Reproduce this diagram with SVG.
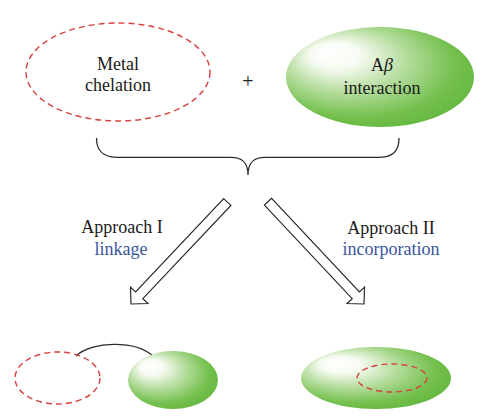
<svg xmlns="http://www.w3.org/2000/svg" width="496" height="416" viewBox="0 0 496 416">
  <defs>
    <radialGradient id="greenGrad" cx="0.42" cy="0.42" r="0.65" fx="0.22" fy="0.25">
      <stop offset="0" stop-color="#ffffff"/>
      <stop offset="0.2" stop-color="#f7fbf3"/>
      <stop offset="0.5" stop-color="#b3dc9b"/>
      <stop offset="0.8" stop-color="#74c04e"/>
      <stop offset="1" stop-color="#63b63c"/>
    </radialGradient>
    <style>
      .dash { fill: none; stroke: #d8413f; stroke-width: 1.4; stroke-dasharray: 6 4; }
      .green { fill: url(#greenGrad); stroke: none; }
      .lbl { font-family: "Liberation Serif", "Times New Roman", serif; font-size: 18px; fill: #1a1a1a; text-anchor: middle; }
      .blue { fill: #3a559c; }
      .line { fill: none; stroke: #2a2a2a; stroke-width: 1.3; }
      .arrow { fill: #ffffff; stroke: #2a2a2a; stroke-width: 1.2; stroke-linejoin: miter; }
    </style>
  </defs>
  <rect width="496" height="416" fill="#ffffff"/>

  <g id="metal-chelation">
    <ellipse class="dash" cx="118" cy="72" rx="92" ry="49"/>
    <text class="lbl" x="118" y="70">Metal</text>
    <text class="lbl" x="118" y="91">chelation</text>
  </g>

  <g id="plus">
    <text class="lbl" x="248" y="88" style="font-size:20px; fill:#222222">+</text>
  </g>

  <g id="abeta-interaction">
    <ellipse class="green" cx="380" cy="77" rx="94" ry="50"/>
    <text class="lbl" x="382" y="71">A<tspan font-style="italic">β</tspan></text>
    <text class="lbl" x="382" y="94">interaction</text>
  </g>

  <g id="brace">
    <path class="line" d="M96.5,138 C96.5,152 104,157.3 118,157.3 L231,157.3 C242,157.3 248,162 248,175 C248,162 254,157.3 265,157.3 L378,157.3 C392,157.3 399,152 399,138"/>
  </g>

  <g id="connectors">
    <polygon class="arrow" points="223.7,198.6 230.9,205.4 142.8,298.7 147.9,303.5 131,304 130.5,287.1 135.6,291.9"/>
    <polygon class="arrow" points="271.6,198.3 264.4,205.1 352.2,298.7 347.1,303.5 364,304 364.5,287.1 359.4,291.9"/>
    <path class="line" d="M76,356 C92,341 135,340 153,356"/>
  </g>

  <g id="approach-1-label">
    <text class="lbl" x="122" y="233">Approach I</text>
    <text class="lbl blue" x="121" y="255">linkage</text>
  </g>

  <g id="approach-2-label">
    <text class="lbl" x="391" y="234">Approach II</text>
    <text class="lbl blue" x="391" y="255">incorporation</text>
  </g>

  <g id="linked-product">
    <ellipse class="dash" cx="57.5" cy="378" rx="42.5" ry="26"/>
    <ellipse class="green" cx="173" cy="380" rx="45" ry="29"/>
  </g>

  <g id="incorporated-product">
    <ellipse class="green" cx="376" cy="378" rx="75" ry="31"/>
    <ellipse class="dash" cx="392" cy="378" rx="35" ry="14"/>
  </g>
</svg>
